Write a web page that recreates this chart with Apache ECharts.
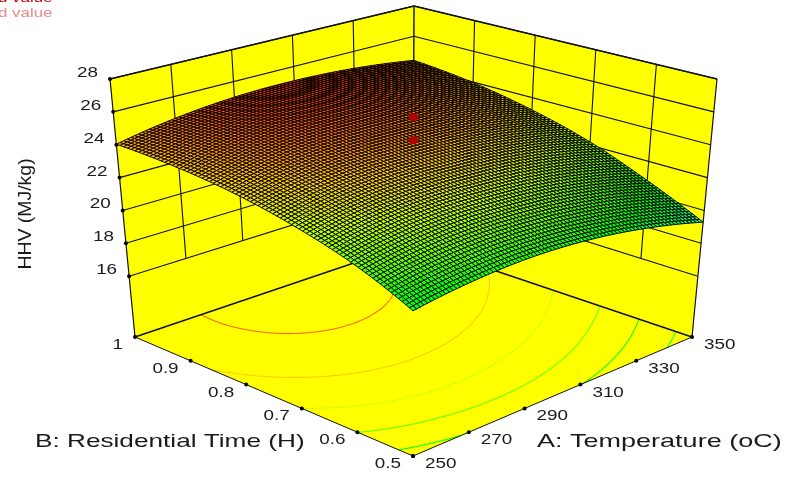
<!DOCTYPE html>
<html><head><meta charset="utf-8">
<style>html,body{margin:0;padding:0;background:#fff}#c{width:787px;height:477px}</style>
<script src="https://cdn.jsdelivr.net/npm/echarts@6/dist/echarts.min.js"></script>
</head><body><div id="c"></div>
<script>
const aTicks = [250, 270, 290, 310, 330, 350];
const bTicks = [0.5, 0.6, 0.7, 0.8, 0.9, 1];
const bLabels = ['0.5', '0.6', '0.7', '0.8', '0.9', '1'];
const zTicks = [16, 18, 20, 22, 24, 26, 28];
const contourLevels = [19.75, 20.75, 21.75, 22.75, 23.75, 24.75];
// HHV read at each A tick (columns) for each B tick (rows)
const hhvB05 = [20.35, 20.79, 20.96, 20.77, 20.21, 19.29];
const hhvB06 = [21.76, 22.31, 22.49, 22.30, 21.75, 20.82];
const hhvB07 = [22.75, 23.36, 23.61, 23.50, 23.03, 22.20];
const hhvB08 = [23.46, 24.11, 24.42, 24.37, 23.97, 23.22];
const hhvB09 = [23.87, 24.56, 24.92, 24.93, 24.61, 23.96];
const hhvB10 = [24.03, 24.66, 25.02, 25.09, 24.89, 24.40];
const designPointsHHV = [26.0, 24.6];
const designPointA = 300, designPointB = 0.75;
const titleZ = 'HHV (MJ/kg)', titleA = 'A: Temperature (oC)', titleB = 'B: Residential Time (H)';
const noteText = 'd value';

const hhv = [hhvB05, hhvB06, hhvB07, hhvB08, hhvB09, hhvB10];
const zFloor = 12.3, zTop = 28;
const F = {p00:[413,456], p10:[692,337], p01:[135,337], p11:[413,243]};
const T = {p00:[413,173], p10:[717,79], p01:[110,79], p11:[414,6]};
const STEPS = 16, MESH = STEPS * 5;
function bil(Q,u,v){return [0,1].map(i=>Q.p00[i]*(1-u)*(1-v)+Q.p10[i]*u*(1-v)+Q.p01[i]*(1-u)*v+Q.p11[i]*u*v);}
function proj(A,B,z){
  const u=(A-250)/100,v=(B-0.5)/0.5,t=(z-zFloor)/(zTop-zFloor);
  const f=bil(F,u,v),g=bil(T,u,v);
  return [f[0]+(g[0]-f[0])*t,f[1]+(g[1]-f[1])*t];
}
// smooth tessellation of the read table for the drawn wire mesh
function cr1(arr,s){
  const n=arr.length, i=Math.min(Math.floor(s),n-2), t=s-i;
  const at=k=>k<0?3*arr[0]-3*arr[1]+arr[2]:k>=n?3*arr[n-1]-3*arr[n-2]+arr[n-3]:arr[k];
  const p0=at(i-1),p1=at(i),p2=at(i+1),p3=at(i+2);
  return 0.5*(2*p1+(p2-p0)*t+(2*p0-5*p1+4*p2-p3)*t*t+(3*p1-p0-3*p2+p3)*t*t*t);
}
const meshZ=[];
for(let j=0;j<=MESH;j++){
  const sb=j/STEPS, col=hhv[0].map((_,c)=>cr1(hhv.map(r=>r[c]),sb)), row=[];
  for(let i=0;i<=MESH;i++) row.push(cr1(col,i/STEPS));
  meshZ.push(row);
}
const meshA=i=>250+100*i/MESH, meshB=j=>0.5+0.5*j/MESH;

const stops=[[18.75,[0,255,220]],[19.75,[0,255,100]],[20.75,[0,255,0]],[21.75,[100,255,0]],[22.75,[200,255,0]],[23.75,[255,200,0]],[24.75,[255,100,0]],[25.25,[255,40,0]]];
function colorOf(z){
  if(z<=stops[0][0])return `rgb(${stops[0][1]})`;
  for(let k=1;k<stops.length;k++) if(z<=stops[k][0]){
    const a=stops[k-1],b=stops[k],t=(z-a[0])/(b[0]-a[0]);
    return `rgb(${a[1].map((c,i)=>Math.round(c+(b[1][i]-c)*t))})`;
  }
  return `rgb(${stops[stops.length-1][1]})`;
}
// painter's order: back corner first
const cells=[];
for(let j=MESH-1;j>=0;j--)for(let i=MESH-1;i>=0;i--)cells.push([i,j]);
// contour segments on the floor
const segs=[];
contourLevels.forEach(L=>{
  for(let j=0;j<MESH;j++)for(let i=0;i<MESH;i++){
    const c=[[i,j],[i+1,j],[i+1,j+1],[i,j+1]], pts=[];
    for(let k=0;k<4;k++){
      const p=c[k],q=c[(k+1)%4],zp=meshZ[p[1]][p[0]],zq=meshZ[q[1]][q[0]];
      if((zp<L)!==(zq<L)){const t=(L-zp)/(zq-zp);pts.push([p[0]+(q[0]-p[0])*t,p[1]+(q[1]-p[1])*t]);}
    }
    if(pts.length>=2)segs.push([meshA(pts[0][0]),meshB(pts[0][1]),meshA(pts[1][0]),meshB(pts[1][1]),L]);
  }
});
const wallData=[
 [[250,1,zFloor],[350,1,zFloor],[350,1,zTop],[250,1,zTop]],
 [[350,1,zFloor],[350,0.5,zFloor],[350,0.5,zTop],[350,1,zTop]],
 [[250,0.5,zFloor],[350,0.5,zFloor],[350,1,zFloor],[250,1,zFloor]]
];
const gridLines=[];
zTicks.forEach(z=>{gridLines.push([[250,1,z],[350,1,z],1.1]);gridLines.push([[350,1,z],[350,0.5,z],1.1]);});
aTicks.slice(1,5).forEach(a=>gridLines.push([[a,1,16],[a,1,zTop],1.1]));
bTicks.slice(1,5).forEach(b=>gridLines.push([[350,b,16],[350,b,zTop],1.1]));
gridLines.push([[250,1,zFloor],[250,1,zTop],1.2],[[350,0.5,zFloor],[350,0.5,zTop],1.2],[[350,1,16],[350,1,zTop],1.4]);
gridLines.push([[250,1,zTop],[350,1,zTop],1.4],[[350,1,zTop],[350,0.5,zTop],1.4]);
gridLines.push([[250,1,zFloor],[350,1,zFloor],1.5],[[350,1,zFloor],[350,0.5,zFloor],1.5]);
gridLines.push([[250,0.5,zFloor],[350,0.5,zFloor],1],[[250,0.5,zFloor],[250,1,zFloor],1]);

const tickDots=[];
zTicks.forEach(z=>tickDots.push([250,1,z]));
aTicks.forEach(a=>tickDots.push([a,0.5,zFloor]));
bTicks.forEach(b=>tickDots.push([250,b,zFloor]));

const FONT='"Liberation Sans", Arial, sans-serif', tickCol='#1a1a1a';
const texts=[];
zTicks.forEach(z=>{const p=proj(250,1,z);texts.push({x:p[0]-12,y:p[1]-6,s:String(z),al:'right',fs:14.5,sx:1.3});});
aTicks.forEach(a=>{const p=proj(a,0.5,zFloor);texts.push({x:p[0]+12,y:p[1]+8,s:String(a),al:'left',fs:14.5,sx:1.3});});
bTicks.forEach((b,i)=>{const p=proj(250,b,zFloor);texts.push({x:p[0]-12,y:p[1]+8,s:bLabels[i],al:'right',fs:14.5,sx:1.3});});
texts.push({x:537,y:442,s:titleA,al:'left',fs:18.5,sx:1.46});
texts.push({x:35,y:442,s:titleB,al:'left',fs:18.5,sx:1.415});
texts.push({x:26,y:214,s:titleZ,al:'center',fs:18,sx:1.08,rot:Math.PI/2});
texts.push({x:-2,y:-2,s:noteText,al:'left',fs:13,sx:1.3,col:'#cc0000'});
texts.push({x:-2,y:13,s:noteText,al:'left',fs:13,sx:1.3,col:'#e88a8a'});

const common={type:'custom',coordinateSystem:'cartesian2d',silent:true,animation:false,clip:false,progressive:0};
const idx=arr=>arr.map((_,i)=>[i]);
const P=(api,p)=>api.coord(proj(p[0],p[1],p[2]));
const option={
 animation:false,
 grid:{left:0,right:0,top:0,bottom:0},
 xAxis:{type:'value',min:0,max:787,show:false},
 yAxis:{type:'value',min:0,max:477,inverse:true,show:false},
 series:[
  {...common,z:1,data:idx(wallData),renderItem:(p,api)=>({type:'polygon',shape:{points:wallData[p.dataIndex].map(q=>P(api,q))},style:{fill:'#ffff00',stroke:null}})},
  {...common,z:2,data:idx(segs),renderItem:(p,api)=>{const s=segs[p.dataIndex];
     const a=api.coord(proj(s[0],s[1],zFloor)),b=api.coord(proj(s[2],s[3],zFloor));
     return {type:'line',shape:{x1:a[0],y1:a[1],x2:b[0],y2:b[1]},style:{stroke:colorOf(s[4]),lineWidth:1.1,fill:null}};}},
  {...common,z:3,data:idx(gridLines),renderItem:(p,api)=>{const g=gridLines[p.dataIndex],a=P(api,g[0]),b=P(api,g[1]);
     return {type:'line',shape:{x1:a[0],y1:a[1],x2:b[0],y2:b[1]},style:{stroke:'#111',lineWidth:g[2],fill:null}};}},
  {...common,z:4,data:idx(cells),renderItem:(p,api)=>{const [i,j]=cells[p.dataIndex];
     const c=[[i,j],[i+1,j],[i+1,j+1],[i,j+1]];
     const pts=c.map(q=>api.coord(proj(meshA(q[0]),meshB(q[1]),meshZ[q[1]][q[0]])));
     const z=(meshZ[j][i]+meshZ[j+1][i+1])/2;
     return {type:'polygon',shape:{points:pts},style:{fill:colorOf(z),stroke:'#000',lineWidth:0.95}};}},
  {...common,z:5,data:idx(designPointsHHV),renderItem:(p,api)=>{const c=api.coord(proj(designPointA,designPointB,designPointsHHV[p.dataIndex]));
     return {type:'ellipse',shape:{cx:c[0],cy:c[1],rx:5,ry:4},style:{fill:'#b00000',stroke:null}};}},
  {...common,z:6,data:idx(tickDots),renderItem:(p,api)=>{const c=P(api,tickDots[p.dataIndex]);
     return {type:'circle',shape:{cx:c[0],cy:c[1],r:2},style:{fill:'#000',stroke:null}};}},
  {...common,z:7,data:idx(texts),renderItem:(p,api)=>{const t=texts[p.dataIndex],c=api.coord([t.x,t.y]);
     return {type:'text',x:c[0],y:c[1],rotation:t.rot||0,scaleX:t.sx,scaleY:1,
       style:{text:t.s,fill:t.col||tickCol,font:`${t.fs}px ${FONT}`,align:t.al,verticalAlign:'middle'}};}}
 ]
};
const chart=echarts.init(document.getElementById('c'),null,{renderer:'canvas'});
chart.setOption(option);
</script></body></html>
